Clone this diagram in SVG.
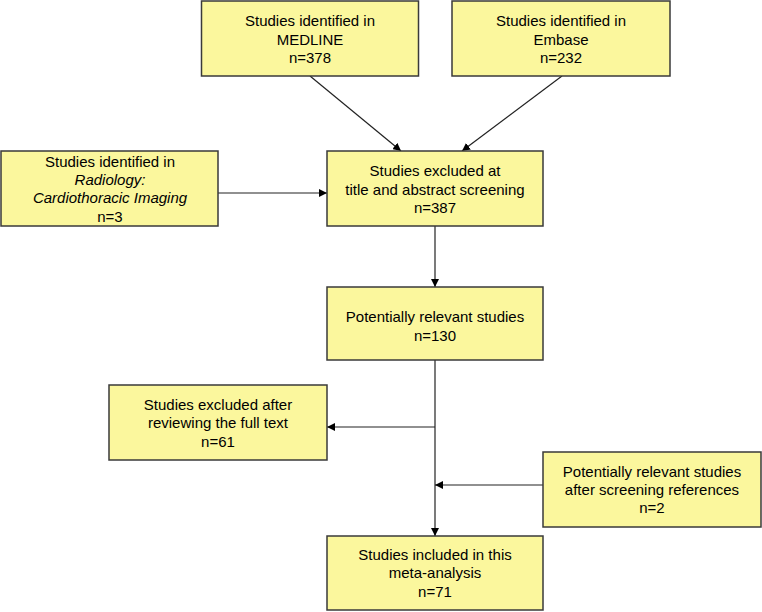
<svg xmlns="http://www.w3.org/2000/svg" width="762" height="612" viewBox="0 0 762 612">
<style>
.box{fill:#fbf79d;stroke:#3a3a3a;stroke-width:1.5}
text{font-family:"Liberation Sans",Arial,sans-serif;font-size:15px;fill:#000;text-anchor:middle}
.it{font-style:italic}
.c{stroke:#222;stroke-width:1.2;fill:none;marker-end:url(#ah)}
</style>
<defs>
<marker id="ah" viewBox="0 0 10 10" refX="10" refY="5" markerWidth="8" markerHeight="8" markerUnits="userSpaceOnUse" orient="auto">
<path d="M0,0 L10,5 L0,10 z" fill="#000"/>
</marker>
</defs>
<rect width="762" height="612" fill="#fff"/>
<g id="connectors">
<line class="c" x1="310" y1="76" x2="401" y2="151"/>
<line class="c" x1="562" y1="76" x2="462" y2="151"/>
<line class="c" x1="218" y1="193" x2="327" y2="193"/>
<line class="c" x1="435" y1="226" x2="435" y2="287"/>
<line class="c" x1="435" y1="427" x2="327" y2="427"/>
<line class="c" x1="435" y1="360" x2="435" y2="536"/>
<line class="c" x1="543" y1="485" x2="435" y2="485"/>
</g>
<g id="medline">
<rect class="box" x="201.5" y="1" width="217" height="75"/>
<text x="310" y="26">Studies identified in</text>
<text x="310" y="45">MEDLINE</text>
<text x="310" y="63">n=378</text>
</g>
<g id="embase">
<rect class="box" x="452" y="1" width="218" height="75"/>
<text x="561" y="26">Studies identified in</text>
<text x="561" y="45">Embase</text>
<text x="561" y="63">n=232</text>
</g>
<g id="radiology">
<rect class="box" x="1" y="151" width="217" height="75"/>
<text x="110" y="167">Studies identified in</text>
<text class="it" x="110" y="185">Radiology:</text>
<text class="it" x="110" y="203">Cardiothoracic Imaging</text>
<text x="110" y="222">n=3</text>
</g>
<g id="excluded-title">
<rect class="box" x="327" y="151" width="216" height="75"/>
<text x="435" y="176">Studies excluded at</text>
<text x="435" y="195">title and abstract screening</text>
<text x="435" y="213">n=387</text>
</g>
<g id="potentially-relevant">
<rect class="box" x="327" y="287" width="216" height="73"/>
<text x="435" y="322">Potentially relevant studies</text>
<text x="435" y="341">n=130</text>
</g>
<g id="excluded-fulltext">
<rect class="box" x="109" y="385" width="218" height="75"/>
<text x="218" y="410">Studies excluded after</text>
<text x="218" y="428">reviewing the full text</text>
<text x="218" y="447">n=61</text>
</g>
<g id="screening-references">
<rect class="box" x="543" y="452" width="218" height="75"/>
<text x="652" y="477">Potentially relevant studies</text>
<text x="652" y="495">after screening references</text>
<text x="652" y="513">n=2</text>
</g>
<g id="included">
<rect class="box" x="327" y="536" width="216" height="74"/>
<text x="435" y="560">Studies included in this</text>
<text x="435" y="578">meta-analysis</text>
<text x="435" y="597">n=71</text>
</g>
</svg>
